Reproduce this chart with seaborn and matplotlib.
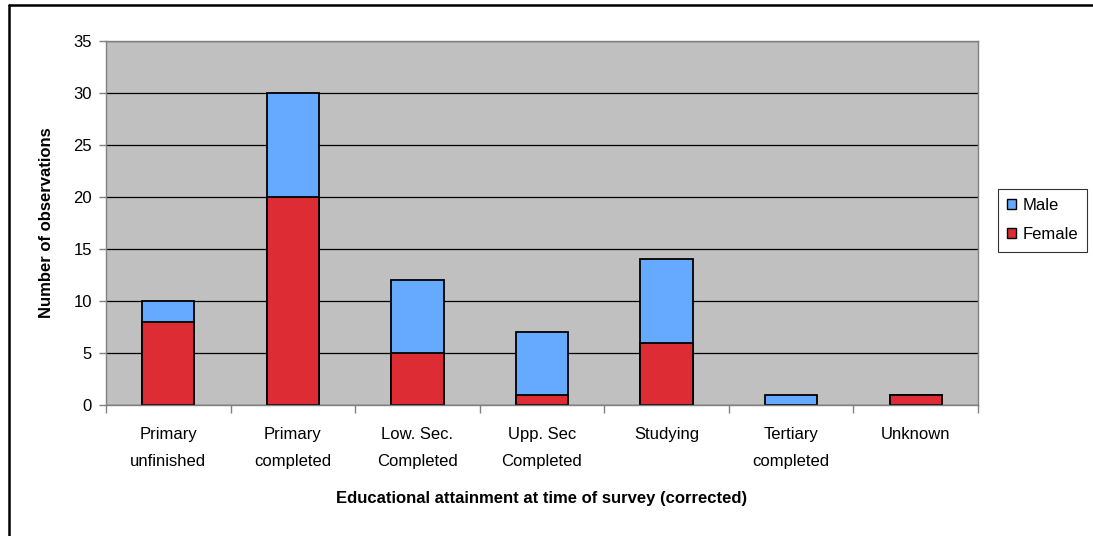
import pandas as pd
import numpy as np
import matplotlib.pyplot as plt
import seaborn as sns
from matplotlib.lines import Line2D
from matplotlib.patches import Patch

# Data
categories = ['Primary\nunfinished', 'Primary\ncompleted', 'Low. Sec.\nCompleted',
              'Upp. Sec\nCompleted', 'Studying', 'Tertiary\ncompleted', 'Unknown']
female = [8, 20, 5, 1, 6, 0, 1]
male = [2, 10, 7, 6, 8, 1, 0]

df = pd.DataFrame({'Category': categories, 'Female': female, 'Male': male})
df['Total'] = df['Female'] + df['Male']

sns.set_style('white')
plt.rcParams['font.family'] = ['Liberation Sans', 'DejaVu Sans']
plt.rcParams['text.color'] = 'black'
plt.rcParams['axes.labelcolor'] = 'black'
plt.rcParams['xtick.color'] = 'black'
plt.rcParams['ytick.color'] = 'black'

blue = '#66AAFF'
red = '#DD2C33'

fig = plt.figure(figsize=(10.93, 5.36), dpi=100)
ax = fig.add_axes([106 / 1093, 1 - 405 / 536, (978 - 106) / 1093, (405 - 41) / 536])
ax.set_facecolor('#C0C0C0')

# total bars (male on top), then female over them
sns.barplot(data=df, x='Category', y='Total', color=blue, edgecolor='black',
            linewidth=1.3, width=0.42, saturation=1, ax=ax)
sns.barplot(data=df[df['Female'] > 0], x='Category', y='Female', order=categories,
            color=red, edgecolor='black', linewidth=1.3, width=0.42, saturation=1, ax=ax)

ax.set_ylim(0, 35)
ax.set_yticks(range(0, 36, 5))
ax.set_xlim(-0.5, 6.5)
ax.yaxis.grid(True, color='black', linewidth=0.9)
ax.set_axisbelow(True)
for s in ['top', 'right', 'left', 'bottom']:
    ax.spines[s].set_color('#808080')
    ax.spines[s].set_linewidth(1)

# category boundary ticks like Excel
ax.set_xticks(np.arange(7))
ax.set_xticklabels(categories, linespacing=2.05)
ax.set_xticks(np.arange(-0.5, 7, 1), minor=True)
ax.tick_params(axis='x', which='major', length=0, pad=15.5, labelsize=12)
ax.tick_params(axis='x', which='minor', length=6, color='#808080', width=1, bottom=True)
ax.tick_params(axis='y', length=5, color='#808080', width=1, labelsize=12, left=True, pad=5)

ax.set_xlabel('Educational attainment at time of survey (corrected)', fontsize=12,
              fontweight='bold', labelpad=16)
ax.set_ylabel('Number of observations', fontsize=12, fontweight='bold', labelpad=14)

handles = [Patch(facecolor=blue, edgecolor='black', label='Male'),
           Patch(facecolor=red, edgecolor='black', label='Female')]
leg = fig.legend(handles=handles, loc='upper left', bbox_to_anchor=(998 / 1093, 1 - 189 / 536),
                 frameon=True, fancybox=False, edgecolor='black', fontsize=12,
                 handlelength=0.55, handleheight=0.55, handletextpad=0.35,
                 borderpad=0.55, labelspacing=0.85, borderaxespad=0)
leg.get_frame().set_linewidth(0.8)

# outer chart border (only top and left are visible)
fig.add_artist(Line2D([9 / 1093, 9 / 1093], [0, 1 - 5 / 536], transform=fig.transFigure,
                      color='black', linewidth=1.8))
fig.add_artist(Line2D([9 / 1093, 1], [1 - 5 / 536, 1 - 5 / 536], transform=fig.transFigure,
                      color='black', linewidth=1.8))

fig.savefig('out.png', dpi=100)
